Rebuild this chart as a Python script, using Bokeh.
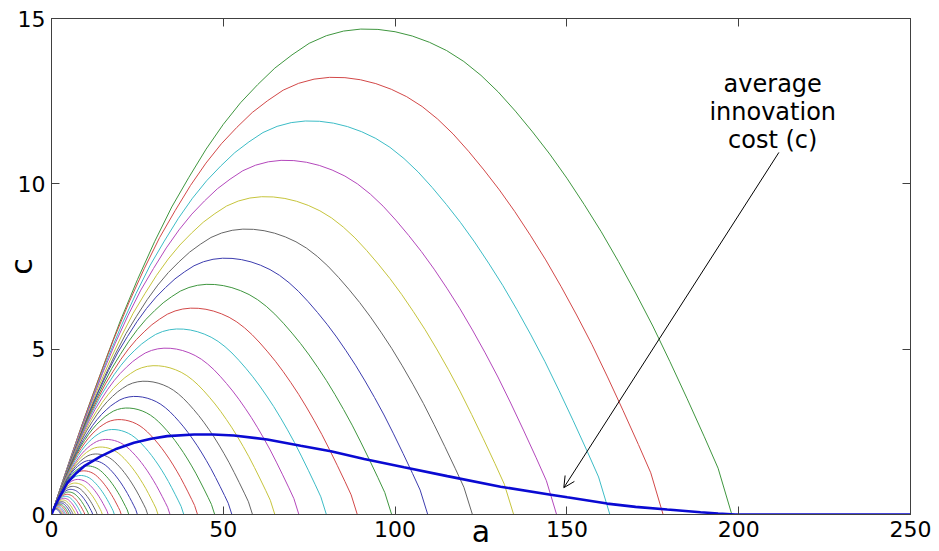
from bokeh.plotting import figure
from bokeh.models import Range1d, LinearAxis, Label, Arrow, OpenHead, ColumnDataSource, FixedTicker
from bokeh.embed import file_html
from bokeh.resources import INLINE

# ---- data ----
# shape of the largest curve (a, c)
top_a = [0, 3, 6, 9, 12, 16, 20, 25, 30, 35, 40, 45, 50, 55, 60, 65, 70, 75, 80, 85, 90, 95,
         100, 105, 110, 115, 120, 125, 130, 135, 140, 145, 150, 155, 160, 165, 170, 175, 180,
         185, 190, 194, 198]
top_c = [0, 0.93, 1.85, 2.75, 3.62, 4.75, 5.85, 7.1, 8.25, 9.3, 10.2, 11.05, 11.8, 12.45, 13.0,
         13.5, 13.9, 14.25, 14.48, 14.62, 14.68, 14.67, 14.6, 14.47, 14.28, 14.03, 13.7, 13.28,
         12.78, 12.2, 11.57, 10.9, 10.17, 9.38, 8.55, 7.65, 6.7, 5.7, 4.62, 3.5, 2.35, 1.4, 0]
# end point (root) and peak height of every curve of the family, largest first
roots = [198, 178, 162.5, 147, 134.5, 122.5, 109.5, 99, 89, 80, 72, 65, 58.5, 52.5, 47.5, 42.5,
         38.5, 34.5, 31, 28, 25, 22.5, 20.3, 18.3, 16.5, 14.8, 13.3, 12, 10.8, 9.7, 8.7, 7.8, 7.0,
         6.3, 5.7, 5.1, 4.6, 4.1, 3.7, 3.3, 3.0, 2.7]
peaks = [14.68, 13.22, 11.90, 10.71, 9.61, 8.63, 7.75, 6.96, 6.24, 5.61, 5.03, 4.50, 4.03, 3.57,
         3.22, 2.87, 2.57, 2.27, 2.04, 1.83, 1.64, 1.47, 1.32, 1.18, 1.06, 0.95, 0.85, 0.76, 0.68,
         0.61, 0.55, 0.49, 0.44, 0.39, 0.35, 0.31, 0.28, 0.25, 0.22, 0.20, 0.18, 0.16]
# average innovation cost
avg_a = [0, 1, 2.2, 4.6, 7, 9.5, 14.3, 19, 24.0, 29, 33.7, 41.5, 47, 53.1, 62.8, 72.5, 81.3,
         91.0, 102.6, 115.2, 130.7, 145.3, 150.1, 161.7, 170, 179.2, 188.9, 194, 199, 250]
avg_c = [0, 0.25, 0.5, 0.96, 1.23, 1.46, 1.76, 1.99, 2.17, 2.29, 2.37, 2.42, 2.42, 2.39, 2.27,
         2.08, 1.91, 1.68, 1.43, 1.16, 0.84, 0.60, 0.52, 0.33, 0.23, 0.15, 0.07, 0.03, 0.0, 0.0]
x_ticks = [0, 50, 100, 150, 200, 250]
y_ticks = [0, 5, 10, 15]
annotation_text = "average\ninnovation\ncost (c)"
annotation_pos = (209.9, 12.17)
arrow_start = (211.7, 10.95)
arrow_end = (149.1, 0.81)

palette = ["#3f963f", "#d24848", "#3cbcc6", "#b448bc", "#c6c43c", "#666666", "#3c3cae"]

p = figure(width=939, height=551, output_backend="svg", toolbar_location=None,
           x_range=Range1d(0, 250), y_range=Range1d(0, 15),
           min_border_left=51, min_border_right=29, min_border_top=18, min_border_bottom=37)
p.background_fill_color = "white"
p.border_fill_color = "white"
p.grid.visible = False
p.outline_line_color = "#404040"

FONT = "DejaVu Sans"
for ax, ticks in ((p.xaxis[0], x_ticks), (p.yaxis[0], y_ticks)):
    ax.ticker = FixedTicker(ticks=ticks)
    ax.major_tick_in = 8
    ax.major_tick_out = 0
    ax.minor_tick_line_color = None
    ax.axis_line_color = "#404040"
    ax.major_tick_line_color = "#404040"
    ax.major_label_text_font = FONT
    ax.major_label_text_font_size = "22px"
    ax.major_label_text_color = "black"
    ax.major_label_standoff = 6
    ax.axis_label_text_font = FONT
    ax.axis_label_text_font_size = "30px"
    ax.axis_label_text_font_style = "normal"
    ax.axis_label_text_color = "black"
p.xaxis[0].axis_label = "a"
p.xaxis[0].axis_label_standoff = -26
p.yaxis[0].axis_label = "c"
p.yaxis[0].axis_label_standoff = -24

for side, ticks in (("right", y_ticks), ("above", x_ticks)):
    ax = LinearAxis(ticker=FixedTicker(ticks=ticks), major_tick_in=8, major_tick_out=0,
                    minor_tick_line_color=None, axis_line_color="#404040",
                    major_tick_line_color="#404040", major_label_text_font_size="10px",
                    major_label_text_color=None, major_label_standoff=0)
    p.add_layout(ax, side)

xs, ys, cols = [], [], []
for k, (r, h) in enumerate(zip(roots, peaks)):
    xs.append([a * r / top_a[-1] for a in top_a])
    ys.append([c * h / max(top_c) for c in top_c])
    cols.append(palette[k % len(palette)])
p.multi_line(xs="xs", ys="ys", line_color="color", line_width=1,
             source=ColumnDataSource(dict(xs=xs, ys=ys, color=cols)))

p.line(avg_a, avg_c, line_color="#0a0ad2", line_width=2.6)

p.add_layout(Label(x=annotation_pos[0], y=annotation_pos[1], text=annotation_text,
                   text_align="center", text_baseline="middle", text_font=FONT,
                   text_font_size="24px", text_line_height=1.0, text_color="black"))
p.add_layout(Arrow(x_start=arrow_start[0], y_start=arrow_start[1], x_end=arrow_end[0],
                   y_end=arrow_end[1], line_color="black", line_width=1,
                   end=OpenHead(size=11, line_color="black", line_width=1)))

open("out.html", "w").write(file_html(p, INLINE))
